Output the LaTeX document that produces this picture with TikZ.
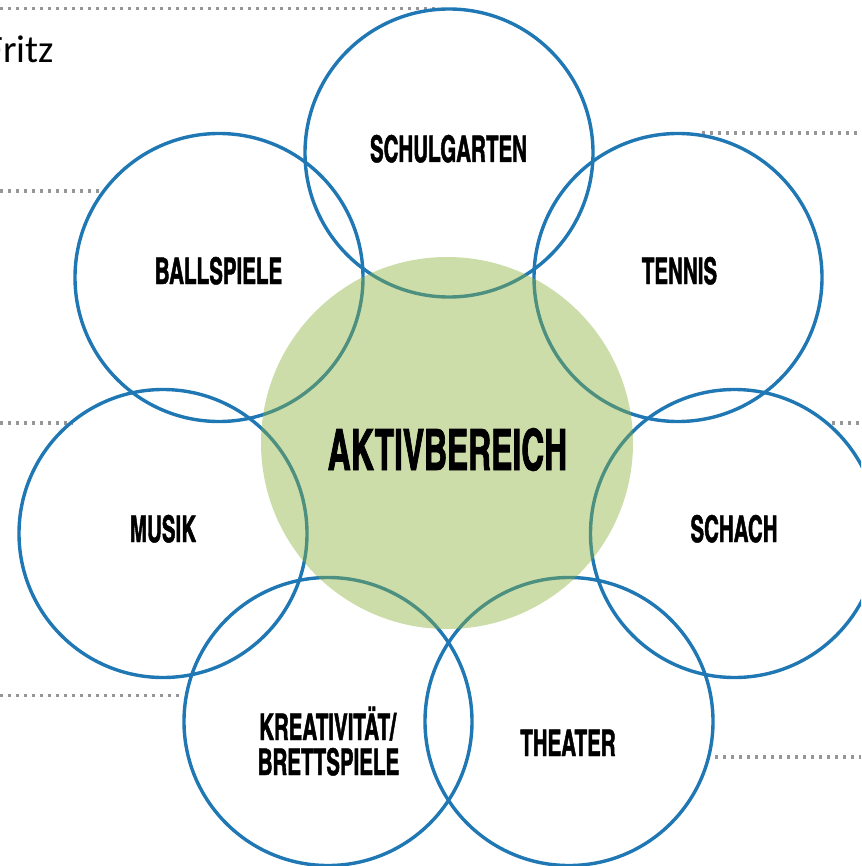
\documentclass[tikz,border=0pt]{standalone}
\usepackage{fontspec}
\newfontfamily\bebas{texgyreheroscn-bold}[Extension=.otf,FakeStretch=0.68,FakeBold=1.2]
\newfontfamily\fritzfont{Carlito}
\definecolor{circblue}{RGB}{31,119,180}
\definecolor{aktivgreen}{RGB}{139,178,62}
\definecolor{dotgray}{RGB}{150,150,150}
\begin{document}
\begin{tikzpicture}[x=1pt,y=-1pt,
  bubble/.style={circle, draw=circblue, line width=3.4pt, minimum size=288pt, inner sep=0pt},
  hub/.style={circle, fill=aktivgreen, fill opacity=0.44, minimum size=372pt, inner sep=0pt},
  lab/.style={anchor=base, inner sep=0pt, font=\bebas\fontsize{36.8}{37}\selectfont},
  biglab/.style={anchor=base, inner sep=0pt, font=\bebas\fontsize{57}{57}\selectfont},
  guide/.style={draw=dotgray, line width=3.4pt, dash pattern=on 3.4pt off 4.6pt}]
\useasboundingbox (0,0) rectangle (861,866);
\clip (0,0) rectangle (861,866);

% dotted guide lines
\coordinate (g1a) at (0,8.5);    \coordinate (g1b) at (437,8.5);
\coordinate (g2a) at (0,191);    \coordinate (g2b) at (102,191);
\coordinate (g3a) at (702,133);  \coordinate (g3b) at (861,133);
\coordinate (g4a) at (0,423);    \coordinate (g4b) at (73,423);
\coordinate (g5a) at (832,423);  \coordinate (g5b) at (861,423);
\coordinate (g6a) at (0,695.7);  \coordinate (g6b) at (183,695.7);
\coordinate (g7a) at (715,757);  \coordinate (g7b) at (861,757);
\draw[guide] (g1a) -- (g1b);
\draw[guide] (g2a) -- (g2b);
\draw[guide] (g3a) -- (g3b);
\draw[guide] (g4a) -- (g4b);
\draw[guide] (g5a) -- (g5b);
\draw[guide] (g6a) -- (g6b);
\draw[guide] (g7a) -- (g7b);

% Fritz
\node[anchor=base east, inner sep=0pt, font=\fritzfont\fontsize{38.8}{40}\selectfont] (fritz) at (54,63) {Fritz};

% outer circles
\node[bubble] (schul) at (449,153) {};
\node[bubble] (tennis) at (678,277.5) {};
\node[bubble] (ball) at (219,277.5) {};
\node[bubble] (musik) at (163,533.5) {};
\node[bubble] (schach) at (734.5,533.5) {};
\node[bubble] (krea) at (328,721.5) {};
\node[bubble] (theater) at (569,721.5) {};

% central circle
\node[hub] (aktiv) at (447,443) {};

% labels
\node[biglab] (aktivtxt) at (447.5,470) {AKTIVBEREICH};
\node[lab] (schultxt) at (448.5,162) {SCHULGARTEN};
\node[lab] (balltxt) at (218.5,284) {BALLSPIELE};
\node[lab] (tennistxt) at (679.5,284) {TENNIS};
\node[lab] (musiktxt) at (163,542) {MUSIK};
\node[lab] (schachtxt) at (734,542) {SCHACH};
\node[lab] (kreatxt) at (327.5,740) {KREATIVITÄT/};
\node[lab] (bretttxt) at (328.5,775) {BRETTSPIELE};
\node[lab] (theatertxt) at (568,756) {THEATER};
\end{tikzpicture}
\end{document}
